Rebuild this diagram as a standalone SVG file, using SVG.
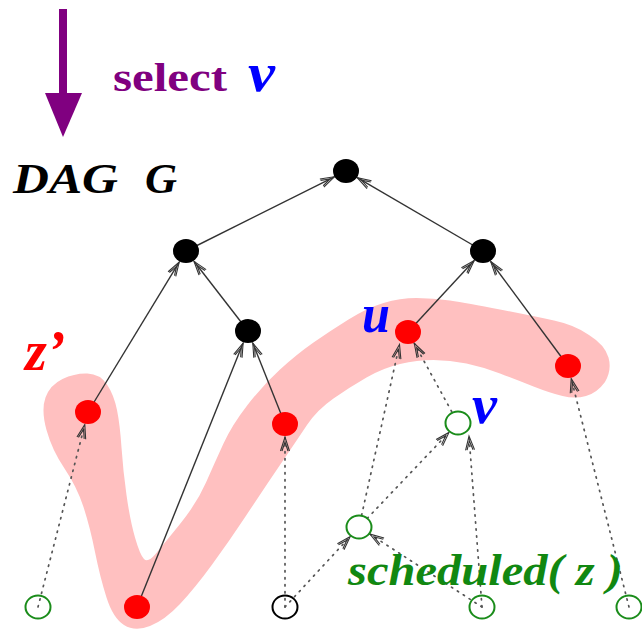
<svg xmlns="http://www.w3.org/2000/svg" width="642" height="631" viewBox="0 0 642 631">
<style>
.solid{stroke:#333;stroke-width:1.4;fill:none;marker-end:url(#ah)}
.dot{stroke:#555;stroke-width:1.7;fill:none;stroke-dasharray:1.4 5.6;stroke-linecap:round;marker-end:url(#ah)}
.red{fill:#ff0000}
.blk{fill:#000}
.gopen{fill:none;stroke:#1a8c1a;stroke-width:2}
.kopen{fill:none;stroke:#000;stroke-width:2}
.lbl{font-family:"Liberation Serif",serif;font-weight:bold;font-style:italic}
</style>
<defs>
<marker id="ah" markerUnits="userSpaceOnUse" markerWidth="20" markerHeight="12" viewBox="-16 -6 18 12" refX="0" refY="0" orient="auto" overflow="visible">
<path d="M-14,-4.5 L0,0 L-14,4.5 M-14,-3 L-5,0 L-14,3" fill="none" stroke="#333" stroke-width="1.1"/>
</marker>
</defs>
<rect width="642" height="631" fill="#fff"/>
<path id="region" fill="#ffc0c0" d="M 87.5,373.5 Q 100,374 107,384.5 Q 114,395 117,410 Q 120,425 121.5,447.5 Q 123,470 126.5,495 Q 130,520 135,537.5 Q 140,555 144,559 Q 148,563 155.5,554 Q 163,545 180,524 Q 197,503 206,482.5 Q 215,462 223.5,443.5 Q 232,425 247.5,405 Q 263,385 280,369.5 Q 297,354 313.5,342.5 Q 330,331 348.5,319.5 Q 367,308 383.5,303 Q 400,298 416.5,298 Q 433,298 450,300.5 Q 467,303 500,309.5 Q 533,316 554,320.5 Q 575,325 589,335 Q 605,345 608.5,357.5 Q 612,370 605,382 Q 597,393 586,396 Q 575,399 562.5,396 Q 550,393 533.5,386.5 Q 517,380 500,373.5 Q 483,367 466.5,363.5 Q 450,360 433.5,360 Q 417,360 400,364 Q 383,368 366.5,377.5 Q 350,387 333.5,398.5 Q 317,410 307,425 Q 297,440 280,465 Q 263,490 246.5,515 Q 230,540 212.5,564 Q 195,588 180,604 Q 165,620 150,626 Q 135,632 124,625 Q 113,618 106.5,597.5 Q 100,577 95,552 Q 90,527 83.5,507 Q 77,487 64.5,468.5 Q 52,450 46.5,430 Q 41,410 45.5,397.5 Q 50,385 62.5,379 Q 75,373 87.5,373.5 Z"/>
<g id="select-arrow">
<line x1="63" y1="9" x2="63" y2="98" stroke="#800080" stroke-width="8"/>
<polygon points="45,93 82,93 63,137" fill="#800080"/>
</g>
<g id="connectors">
<line class="solid" x1="186" y1="251" x2="334.4" y2="176.8"/>
<line class="solid" x1="483" y1="251" x2="357.2" y2="177.6"/>
<line class="solid" x1="88" y1="412" x2="179.2" y2="262.1"/>
<line class="solid" x1="248" y1="331" x2="194" y2="261.3"/>
<line class="solid" x1="285" y1="424" x2="252.8" y2="343.1"/>
<line class="solid" x1="137" y1="607" x2="243.1" y2="343.1"/>
<line class="solid" x1="408" y1="332" x2="474.2" y2="260.5"/>
<line class="solid" x1="568" y1="366" x2="490.7" y2="261.5"/>
<line class="dot" x1="38" y1="607" x2="84.8" y2="424.6"/>
<line class="dot" x1="285" y1="607" x2="285" y2="437"/>
<line class="dot" x1="285" y1="607" x2="350.2" y2="536.5"/>
<line class="dot" x1="361.6" y1="515.3" x2="399.5" y2="344.5"/>
<line class="dot" x1="367.3" y1="518.3" x2="449" y2="432.4"/>
<line class="dot" x1="482" y1="607" x2="469" y2="436"/>
<line class="dot" x1="482" y1="607" x2="369.9" y2="534.1"/>
<line class="dot" x1="451.7" y1="411.6" x2="414.3" y2="343.4"/>
<line class="dot" x1="629" y1="607" x2="571.2" y2="378.6"/>
</g>
<g id="n-root"><ellipse class="blk" cx="346" cy="171" rx="13" ry="12"/></g>
<g id="n-l2a"><ellipse class="blk" cx="186" cy="251" rx="13" ry="12"/></g>
<g id="n-l2b"><ellipse class="blk" cx="483" cy="251" rx="13" ry="12"/></g>
<g id="n-b3"><ellipse class="blk" cx="248" cy="331" rx="13" ry="12"/></g>
<g id="n-u"><ellipse class="red" cx="408" cy="332" rx="13" ry="12"/></g>
<g id="n-rr"><ellipse class="red" cx="568" cy="366" rx="13" ry="12"/></g>
<g id="n-z"><ellipse class="red" cx="88" cy="412" rx="13" ry="12"/></g>
<g id="n-rm"><ellipse class="red" cx="285" cy="424" rx="13" ry="12"/></g>
<g id="n-rb"><ellipse class="red" cx="137" cy="607" rx="13" ry="12"/></g>
<g id="n-v"><ellipse class="gopen" cx="458" cy="423" rx="12.5" ry="11.5"/></g>
<g id="n-gm"><ellipse class="gopen" cx="359" cy="527" rx="12.5" ry="11.5"/></g>
<g id="n-g1"><ellipse class="gopen" cx="38" cy="607" rx="12.5" ry="11.5"/></g>
<g id="n-k"><ellipse class="kopen" cx="285" cy="607" rx="12.5" ry="11.5"/></g>
<g id="n-g2"><ellipse class="gopen" cx="482" cy="607" rx="12.5" ry="11.5"/></g>
<g id="n-g3"><ellipse class="gopen" cx="629" cy="607" rx="12.5" ry="11.5"/></g>
<g id="labels">
<text x="113" y="91" font-family="Liberation Serif,serif" font-weight="bold" font-size="39" fill="#800080" textLength="114" lengthAdjust="spacingAndGlyphs">select</text>
<text class="lbl" x="248" y="91" font-size="54" fill="#0000ff" textLength="27" lengthAdjust="spacingAndGlyphs">v</text>
<text class="lbl" x="13" y="193" font-size="42" fill="#000" textLength="105" lengthAdjust="spacingAndGlyphs">DAG</text>
<text class="lbl" x="145" y="193" font-size="42" fill="#000" textLength="32" lengthAdjust="spacingAndGlyphs">G</text>
<text class="lbl" x="25" y="370" font-size="56" fill="#ff0000">z’</text>
<text class="lbl" x="362" y="332" font-size="54" fill="#0000ff" textLength="28" lengthAdjust="spacingAndGlyphs">u</text>
<text class="lbl" x="472" y="423" font-size="54" fill="#0000ff" textLength="25" lengthAdjust="spacingAndGlyphs">v</text>
<text class="lbl" x="348" y="585" font-size="44" fill="#118811" textLength="275" lengthAdjust="spacingAndGlyphs">scheduled( z )</text>
</g>
</svg>
